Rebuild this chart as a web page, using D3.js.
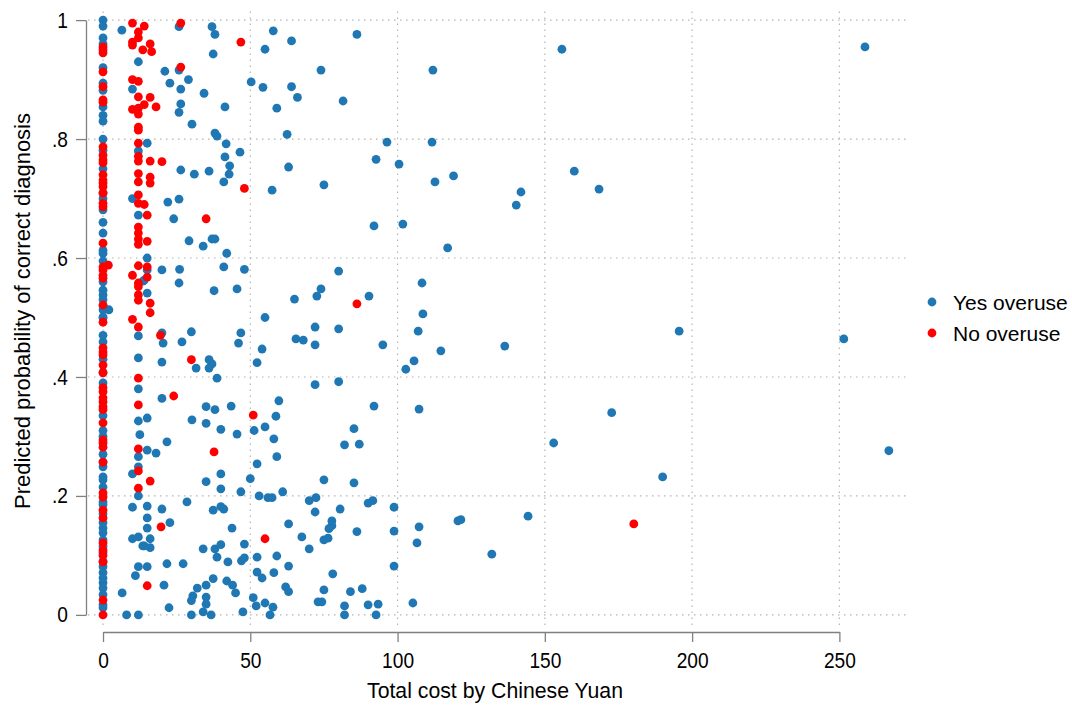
<!DOCTYPE html>
<html>
<head>
<meta charset="utf-8">
<script src="https://cdn.jsdelivr.net/npm/d3@7"></script>
<style>
  body { margin: 0; background: #fff; }
  svg { display: block; font-family: "Liberation Sans", Arial, sans-serif; }
</style>
</head>
<body>
<svg id="chart" width="1072" height="708"></svg>
<script>
// series names shown in the legend
const seriesNames = ["Yes overuse", "No overuse"];

// tick values
const xTicks = [0, 50, 100, 150, 200, 250];
const yTicks = [0, 0.2, 0.4, 0.6, 0.8, 1];

// points sitting on cost = 0 (probability only)
const yesAtZero = [1.0, .97, .96, .894, .882, .854, .84, .781, .70, .681, .642, .613, .608, .546, .538, .513, .501,
  .499, .459, .408, .30, .257, .249, .232, .227, .19, .155, .146, .138, .126, .081, .071, .054, .034, .017,
  .012, .045, .062, .09, .105, .115, .17, .185, .215, .27, .31, .335, .39, .43, .47, .52, .53, .56, .595,
  .66, .71, .75, .80, .83, .92, .99];
const noAtZero = [.955, .95, .945, .913, .888, .866, .862, .787, .773, .765, .76, .74, .731, .726, .72, .709,
  .692, .686, .625, .585, .58, .571, .566, .521, .492, .449, .442, .437, .42, .407, .382, .375, .365, .358,
  .35, .345, .323, .294, .289, .282, .257, .205, .198, .176, .163, .121, .109, .10, .089, .025, 0];

// [cost, probability] for the rest
const yesOveruse = [
  [6.4,.983],[12,.93],[10,.884],[15,.793],[12,.78],[10,.70],[12,.672],[15,.60],[15,.58],[14,.563],[15,.541],
  [13.6,.561],[2,.513],[12,.469],[12,.432],[20,.425],[12,.38],[20,.364],[12,.326],[15,.331],[12.5,.303],
  [15,.277],[18,.272],[12,.266],[12,.249],[10,.237],[12,.20],[10,.181],[15,.183],[15,.163],[15,.146],
  [10,.128],[12,.131],[16,.128],[13.5,.116],[14,.116],[12,.081],[15,.081],[11,.066],[6.5,.037],[8,0],[12,0],
  [25.8,.989],[37,.989],[38,.976],[57.8,.982],[55,.951],[37.4,.943],[21,.914],[25.8,.916],[29,.90],
  [22.7,.894],[26.4,.884],[34.3,.877],[50.3,.896],[54.3,.887],[59,.852],[26.4,.859],[25.8,.845],
  [41.4,.854],[30.2,.825],[38,.81],[38.7,.805],[41.8,.792],[46.5,.778],[41.4,.77],[43,.755],[42.8,.741],
  [26.4,.748],[31,.741],[36,.746],[41,.728],[57.4,.714],[22,.694],[25.8,.699],[24,.666],
  [29.2,.629],[34,.62],[37,.632],[38,.632],[42,.608],[20,.58],[26,.581],[41,.585],[48,.581],[25.8,.558],
  [37.7,.545],[45.5,.548],[55,.50],[20,.474],[20.4,.457],[26.8,.459],[30,.476],[46.8,.474],[46,.457],
  [54,.447],[36,.429],[37,.422],[31.6,.415],[36,.415],[52.3,.424],[38.7,.398],[35,.35],[38,.345],
  [43.5,.351],[59.7,.36],[58.7,.334],[30.2,.328],[35,.322],[40,.312],[45.5,.304],[51.3,.31],[55,.316],
  [58,.296],[59,.266],[21.7,.291],[52.3,.254],[40,.237],[35,.224],[40,.212],[50,.229],[46.8,.207],
  [53,.20],[56,.197],[57.4,.197],[28.5,.19],[20,.178],[22.7,.155],[37.4,.176],[40,.182],[41,.178],
  [43.8,.146],[48,.119],[59,.099],[34,.111],[38,.111],[40,.118],[38.7,.097],[42.4,.089],[47,.091],
  [48,.096],[52.3,.097],[16,.113],[21.7,.086],[27.2,.086],[52.3,.072],[54,.062],[58,.071],[20.7,.05],
  [37.4,.061],[35,.05],[32,.045],[42,.057],[44,.05],[45,.037],[30.5,.032],[30,.024],[35,.03],[35,.018],
  [22.4,.012],[34,.005],[36.7,0],[30,0],[47.5,.005],[51,.029],[55,.02],[57.7,.013],[56.7,0],[52,.015],
  [64,.965],[86.2,.976],[74,.916],[112,.916],[64,.888],[66,.87],[81.5,.864],[62.5,.808],[96.4,.795],
  [111.7,.795],[92.7,.766],[100.5,.758],[119,.738],[112.7,.728],[63,.753],[75,.723],[92,.654],
  [101.8,.657],[117,.617],[80,.578],[108.3,.558],[74,.548],[72.6,.536],[65,.531],[90.3,.536],
  [108.6,.506],[72,.484],[80,.481],[65.5,.464],[68,.462],[72,.454],[95,.454],[107,.477],[114.7,.444],
  [105.6,.427],[102.8,.413],[72,.387],[80,.392],[92,.351],[107.3,.346],[85.2,.313],[82,.286],[87,.287],
  [75,.227],[85.2,.222],[61,.207],[70,.192],[72.3,.197],[72,.173],[80.5,.178],[90,.188],[91.6,.192],
  [98.8,.181],[120.5,.158],[121.5,.16],[63,.153],[77.7,.158],[77.7,.15],[76.7,.145],[75,.126],
  [76.4,.129],[86.2,.14],[98.8,.141],[107.3,.148],[106.6,.121],[67.5,.131],[70,.111],[63,.082],
  [98.8,.082],[78,.069],[62,.047],[63,.039],[75,.042],[84,.039],[88,.044],[73,.022],[74.3,.022],
  [82,.015],[90,.017],[93.4,.018],[105.2,.02],[82,0],[92.7,0],
  [155.8,.951],[160,.746],[168.4,.716],[141.9,.711],[140.3,.689],[136.4,.452],[195.6,.477],[172.7,.34],
  [153,.289],[190,.232],[144.3,.166],[132,.102],[258.7,.955],[251.5,.464],[266.8,.276]
];
const noOveruse = [
  [1.8,.588],[10,.995],[12,.98],[14,.99],[12,.97],[10,.963],[10,.958],[16,.96],[13.5,.95],[16.5,.947],
  [10,.90],[12,.897],[12,.871],[16,.87],[14,.858],[10,.85],[12,.852],[18,.854],[12,.842],[12,.82],
  [12,.815],[12,.793],[12,.771],[12,.763],[16,.763],[20,.762],[12,.742],[16,.736],[12,.728],[16,.726],
  [12,.706],[12,.692],[14,.69],[15,.672],[12,.652],[12,.642],[12,.632],[15,.628],[12,.623],[12,.587],
  [15,.585],[10,.571],[15,.568],[12,.558],[12,.552],[12,.538],[12,.529],[16,.524],[16,.508],[10,.497],
  [12,.484],[19.5,.47],[12,.398],[12,.353],[12,.279],[12,.242],[16,.225],[12,.213],[15,.049],
  [26.4,.995],[46.8,.963],[26.4,.921],[48,.717],[35,.666],[24,.368],[30,.429],[51,.336],[37.7,.274],
  [19.7,.148],[55,.128],[86.2,.523],[180.2,.153]
];

const colors = ["#1f77b4", "#ff0000"];
const fontFamily = "'Liberation Sans', Arial, sans-serif";
const squeeze = 0.87; // reference glyphs are narrower than Arial

const svg = d3.select("#chart");

const x = d3.scaleLinear().domain([-5.1, 273.3]).range([88, 908]);
const y = d3.scaleLinear().domain([-0.017, 1.017]).range([625, 10]);

// dotted grid
const grid = svg.append("g").attr("stroke", "#b4b4b4").attr("stroke-width", 1.2)
  .attr("stroke-dasharray", "1.5,4.5");
grid.selectAll(".hg").data(yTicks).enter().append("line")
  .attr("x1", x.range()[0]).attr("x2", x.range()[1])
  .attr("y1", d => y(d)).attr("y2", d => y(d));
grid.selectAll(".vg").data(xTicks).enter().append("line")
  .attr("y1", y.range()[0]).attr("y2", y.range()[1])
  .attr("x1", d => x(d)).attr("x2", d => x(d));

// axes (line spans only the tick range)
const xAxisScale = d3.scaleLinear().domain([0, 250]).range([x(0), x(250)]);
const yAxisScale = d3.scaleLinear().domain([0, 1]).range([y(0), y(1)]);
const fmtY = d => d === 0 ? "0" : d === 1 ? "1" : String(d).replace(/^0/, "");

const xAxis = svg.append("g").attr("transform", "translate(0,632)")
  .call(d3.axisBottom(xAxisScale).tickValues(xTicks).tickSize(10).tickSizeOuter(0).tickPadding(10));
const yAxis = svg.append("g").attr("transform", "translate(86,0)")
  .call(d3.axisLeft(yAxisScale).tickValues(yTicks).tickFormat(fmtY).tickSize(10).tickSizeOuter(0).tickPadding(8));

[xAxis, yAxis].forEach(g => {
  g.select(".domain").attr("stroke", "#808080").attr("stroke-width", 1.3);
  g.selectAll(".tick line").attr("stroke", "#808080").attr("stroke-width", 1.3);
  g.selectAll(".tick text").attr("fill", "#000").style("font-size", "22px")
    .style("font-family", fontFamily);
});
xAxis.selectAll(".tick text").attr("transform", `scale(${squeeze},1)`);
yAxis.selectAll(".tick text").attr("x", -18 / squeeze).attr("transform", `scale(${squeeze},1)`);

// points: blue first, red drawn on top
const yesAll = yesAtZero.map(p => [0, p]).concat(yesOveruse);
const noAll = noAtZero.map(p => [0, p]).concat(noOveruse);

[yesAll, noAll].forEach((pts, i) => {
  svg.append("g").selectAll("circle").data(pts).enter().append("circle")
    .attr("cx", d => x(d[0])).attr("cy", d => y(d[1]))
    .attr("r", 4.4).attr("fill", colors[i]);
});

// axis titles
svg.append("text").attr("transform", "translate(30,311) rotate(-90)")
  .attr("text-anchor", "middle").style("font-size", "22px")
  .attr("textLength", 396).attr("lengthAdjust", "spacingAndGlyphs")
  .text("Predicted probability of correct diagnosis");
svg.append("text").attr("x", 495).attr("y", 698)
  .attr("text-anchor", "middle").style("font-size", "22.5px")
  .attr("textLength", 256).attr("lengthAdjust", "spacingAndGlyphs")
  .text("Total cost by Chinese Yuan");

// legend
const legend = svg.append("g");
seriesNames.forEach((name, i) => {
  const ly = 302 + i * 31;
  legend.append("circle").attr("cx", 932).attr("cy", ly).attr("r", 4.4).attr("fill", colors[i]);
  legend.append("text").attr("x", 953).attr("y", ly + 7.5).style("font-size", "21px").text(name);
});
</script>
</body>
</html>
